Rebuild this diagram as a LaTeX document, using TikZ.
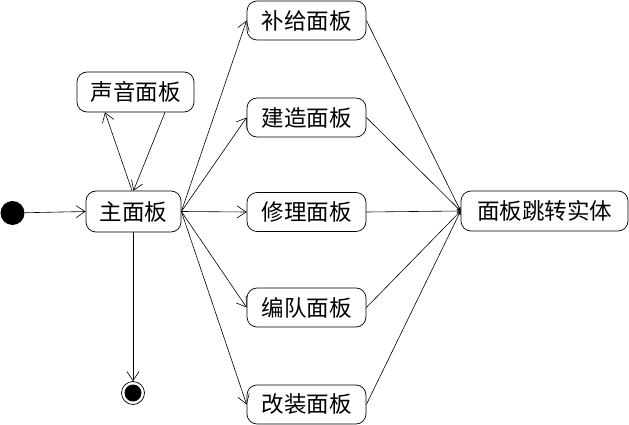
\documentclass[tikz,border=0pt]{standalone}
\usepackage{fontspec}
\newfontfamily\cjk{Noto Sans CJK SC}
\usetikzlibrary{arrows.meta,calc}
\tikzset{
  statebox/.style={draw, rounded corners=10pt, line width=0.7pt, inner sep=0pt,
    minimum height=40pt, font=\cjk\fontsize{22.5}{22.5}\selectfont},
  arr/.style={line width=0.6pt, -{Straight Barb[length=9pt,width=12pt,line width=0.6pt]}},
  arrs/.style={line width=0.6pt, -{Straight Barb[length=3pt,width=3pt,line width=0.6pt]}},
}
\begin{document}
\begin{tikzpicture}[x=1pt,y=-1pt]
\useasboundingbox (0,0) rectangle (629,425);
\node[statebox, minimum width=117pt] (snd) at (135.5,92) {声音面板};
\node[statebox, minimum width=95pt, minimum height=41pt] (main) at (133.5,211.5) {主面板};
\node[statebox, minimum width=119pt, minimum height=39pt] (p1) at (306.5,20.5) {补给面板};
\node[statebox, minimum width=119pt, minimum height=39pt] (p2) at (306.5,117.5) {建造面板};
\node[statebox, minimum width=119pt, minimum height=39pt] (p3) at (306.5,212) {修理面板};
\node[statebox, minimum width=119pt, minimum height=39pt] (p4) at (306.5,307.5) {编队面板};
\node[statebox, minimum width=119pt, minimum height=39pt] (p5) at (306.5,404.5) {改装面板};
\node[statebox, minimum width=167pt] (tgt) at (544.5,211) {面板跳转实体};
\node[circle, fill=black, minimum size=24pt, inner sep=0pt] (init) at (12.5,213) {};
\node[circle, draw, line width=0.7pt, minimum size=23pt, inner sep=0pt] (fin) at (133,393) {};
\fill (fin.center) circle (8.5pt);
\draw[arr] (init) -- (main.west);
\draw[arr] ($(main.north)+(-1.5,0)$) -- ($(snd.south)+(-30.5,0)$);
\draw[arr] ($(snd.south)+(29.5,0)$) -- (main.north);
\draw[arr] ($(main.south)+(-0.5,0)$) -- (fin.north);
\foreach \p in {p1,p2,p3,p4,p5} {
  \draw[arr] (main.east) -- (\p.west);
  \draw[arrs] (\p.east) -- (tgt.west);
}
\end{tikzpicture}
\end{document}
